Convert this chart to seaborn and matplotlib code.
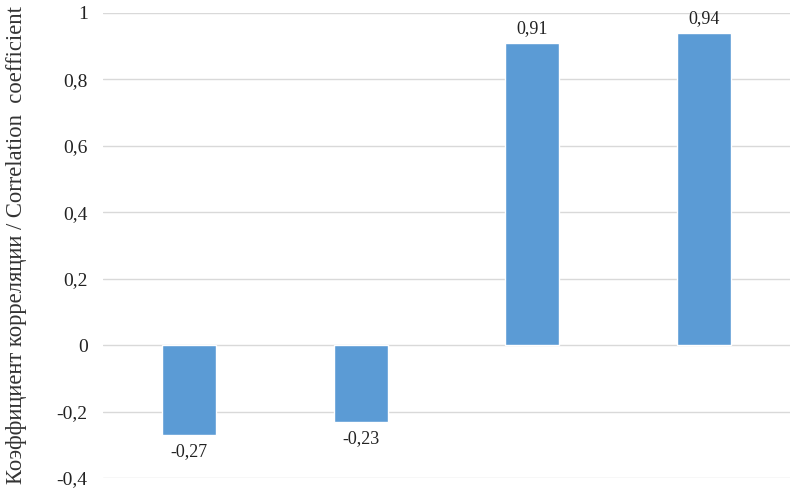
# Correlation coefficients bar chart
import matplotlib
matplotlib.use("Agg")
import matplotlib.pyplot as plt
import pandas as pd
import seaborn as sns

# data
groups = ["1", "2", "3", "4"]
coefs = [-0.27, -0.23, 0.91, 0.94]
yticks = [-0.4, -0.2, 0, 0.2, 0.4, 0.6, 0.8, 1]

df = pd.DataFrame({"group": groups, "coef": coefs})

sns.set_theme(style="white")
plt.rcParams["font.family"] = ["Liberation Serif", "DejaVu Serif"]

fig = plt.figure(figsize=(7.98, 4.9), dpi=100)
ax = fig.add_axes([0.129, 0.0245, 0.861, 0.949])

sns.barplot(data=df, x="group", y="coef", color="#5B9BD5", saturation=1,
            width=0.315, ax=ax, zorder=3)

ax.set_ylim(-0.4, 1)
ax.set_yticks(yticks)
ax.set_yticklabels([("%g" % t).replace(".", ",") for t in yticks], fontsize=14)
ax.set_xticks([])
ax.set_xlabel("")
ax.set_ylabel("")
ax.yaxis.grid(True, color="#D9D9D9", linewidth=1, zorder=0)
ax.tick_params(axis="y", length=0, pad=11, colors="#222222")
for s in ax.spines.values():
    s.set_visible(False)

fig.text(0.021, 0.5, "Коэффициент корреляции / Correlation  coefficient",
         rotation=90, ha="center", va="center", fontsize=16.3, color="#333333")

# data labels
for bar, v in zip(ax.patches, coefs):
    ax.annotate(("%.2f" % v).replace(".", ","),
                (bar.get_x() + bar.get_width() / 2, v),
                xytext=(0, 4 if v > 0 else -6), textcoords="offset points",
                ha="center", va="bottom" if v > 0 else "top",
                fontsize=13, color="#222222")

fig.savefig("out.png", dpi=100)
